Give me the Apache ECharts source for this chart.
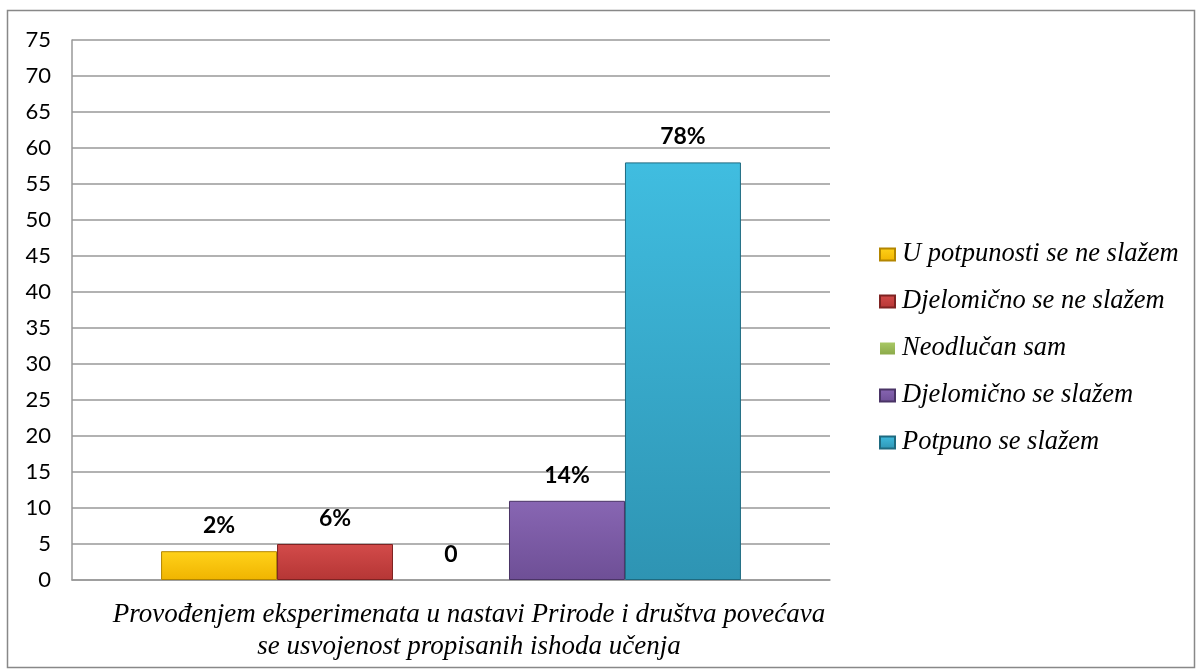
<!DOCTYPE html>
<html><head><meta charset="utf-8">
<script src="https://cdn.jsdelivr.net/npm/echarts@6/dist/echarts.min.js"></script>
<style>html,body{margin:0;padding:0;background:#fff}#c{width:1202px;height:672px}</style>
</head><body><div id="c"></div>
<script>
const categories = ['Provođenjem eksperimenata u nastavi Prirode i društva povećava\nse usvojenost propisanih ishoda učenja'];
const seriesNames = ['U potpunosti se ne slažem','Djelomično se ne slažem','Neodlučan sam','Djelomično se slažem','Potpuno se slažem'];
const seriesValues = [[4],[5],[0],[11],[58]];
const valueLabels = ['2%','6%','0','14%','78%'];
const yTicks = {min:0, max:75, interval:5};

const serif = "'Liberation Serif', 'Times New Roman', serif";
const sans = "Lato, 'Open Sans', sans-serif";
const colors = [
  ['#FFD21A','#F0B400','#B38600'],
  ['#D34B4A','#B53635','#7E2322'],
  ['#A8C865','#8CAA4A','#5F7630'],
  ['#8866B3','#6E4F96','#4A3466'],
  ['#40BDE0','#2E94B3','#1E6A80']
];
const chart = echarts.init(document.getElementById('c'));
const series = seriesNames.map((n,i)=>({
  name:n, type:'bar', data:seriesValues[i], barGap:'0%', barCategoryGap:'23.5%',
  itemStyle:{
    color:new echarts.graphic.LinearGradient(0,0,0,1,[{offset:0,color:colors[i][0]},{offset:1,color:colors[i][1]}]),
    borderColor:colors[i][2], borderWidth:seriesValues[i][0] > 0 ? 1 : 0
  },
  label:{show:true, position:'top', distance:14, formatter:()=>valueLabels[i],
    fontFamily:sans, fontWeight:'bold', fontSize:23, color:'#000'}
}));
chart.setOption({
  animation:false,
  color:colors.map(c=>c[1]),
  graphic:[{type:'rect', shape:{x:7.5,y:10.5,width:1187,height:657}, style:{fill:'none', stroke:'#888', lineWidth:1.5}, silent:true}],
  grid:{left:72, right:372, top:40, bottom:92, containLabel:false},
  legend:{orient:'vertical', left:874, top:236, itemGap:20, itemWidth:15, itemHeight:12, icon:'rect',
    textStyle:{fontFamily:serif, fontStyle:'italic', fontSize:26.5, lineHeight:26, color:'#000', padding:[0,0,0,2]}, data:seriesNames},
  xAxis:{type:'category', data:categories,
    axisLine:{show:true, lineStyle:{color:'#999', width:1.5}}, axisTick:{show:false},
    axisLabel:{margin:19, fontFamily:serif, fontStyle:'italic', fontSize:27, color:'#000', lineHeight:32, padding:[0,0,0,36]}},
  yAxis:{type:'value', min:yTicks.min, max:yTicks.max, interval:yTicks.interval,
    axisLine:{show:true, lineStyle:{color:'#999', width:1.5}}, axisTick:{show:false},
    splitLine:{lineStyle:{color:'#999', width:1.5}},
    axisLabel:{margin:21, fontFamily:sans, fontSize:22, color:'#000'}},
  series
});
</script></body></html>
